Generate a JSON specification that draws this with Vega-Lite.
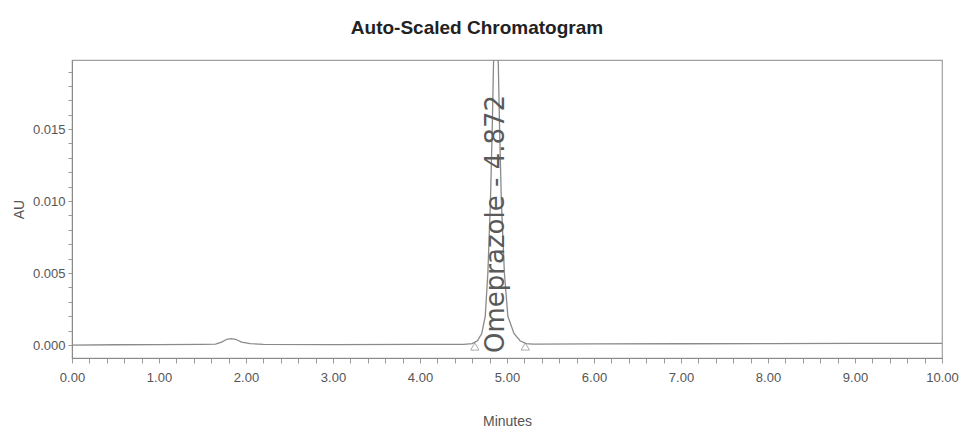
{
  "$schema": "https://vega.github.io/schema/vega-lite/v6.json",
  "autosize": {"type": "none"},
  "padding": {"left": 72, "top": 60, "right": 20, "bottom": 74},
  "width": 870,
  "height": 298,
  "background": "white",
  "title": {
    "text": "Auto-Scaled Chromatogram",
    "font": "Liberation Sans Narrow, Liberation Sans",
    "fontSize": 19,
    "fontWeight": "bold",
    "color": "#222222",
    "offset": 22,
    "dx": -30
  },
  "config": {
    "view": {"stroke": "#a0a0a0", "strokeWidth": 1.2},
    "axis": {
      "labelFont": "Liberation Sans Narrow, Liberation Sans",
      "titleFont": "Liberation Sans Narrow, Liberation Sans",
      "labelColor": "#555555",
      "titleColor": "#555555",
      "labelFontSize": 13,
      "titleFontSize": 14,
      "titleFontWeight": "normal",
      "domainColor": "#8a8a8a",
      "tickColor": "#9a9a9a",
      "grid": false
    }
  },
  "datasets": {
    "trace": [
      {"t": 0.0, "au": 0.0},
      {"t": 0.5, "au": 0.00002},
      {"t": 1.0, "au": 0.00003},
      {"t": 1.5, "au": 0.00004},
      {"t": 1.65, "au": 0.00006},
      {"t": 1.72, "au": 0.0002},
      {"t": 1.78, "au": 0.0004},
      {"t": 1.83, "au": 0.00045},
      {"t": 1.88, "au": 0.0004},
      {"t": 1.95, "au": 0.0002},
      {"t": 2.05, "au": 0.0001},
      {"t": 2.2, "au": 0.00005},
      {"t": 3.0, "au": 0.00003},
      {"t": 4.0, "au": 0.00004},
      {"t": 4.5, "au": 0.00005},
      {"t": 4.6, "au": 0.0001},
      {"t": 4.66, "au": 0.0003},
      {"t": 4.71, "au": 0.0008},
      {"t": 4.75, "au": 0.002},
      {"t": 4.78, "au": 0.005},
      {"t": 4.81, "au": 0.01},
      {"t": 4.83, "au": 0.015},
      {"t": 4.845, "au": 0.0195},
      {"t": 4.872, "au": 0.025},
      {"t": 4.9, "au": 0.0195},
      {"t": 4.915, "au": 0.015},
      {"t": 4.935, "au": 0.01},
      {"t": 4.97, "au": 0.005},
      {"t": 5.01, "au": 0.002},
      {"t": 5.08, "au": 0.0008},
      {"t": 5.15, "au": 0.0003},
      {"t": 5.22, "au": 0.0001},
      {"t": 5.3, "au": 0.00006},
      {"t": 6.0, "au": 0.00008},
      {"t": 7.0, "au": 0.00009},
      {"t": 8.0, "au": 0.0001},
      {"t": 9.0, "au": 0.00011},
      {"t": 10.0, "au": 0.00012}
    ],
    "marks": [
      {"t": 4.63, "au": -0.0001},
      {"t": 5.21, "au": -0.0001}
    ],
    "peaks": [
      {"t": 4.872, "au": -0.00055, "name": "Omeprazole - 4.872"}
    ]
  },
  "layer": [
    {
      "data": {"name": "trace"},
      "mark": {"type": "line", "color": "#8a8a8a", "strokeWidth": 1.3, "clip": true},
      "encoding": {
        "x": {
          "field": "t",
          "type": "quantitative",
          "scale": {"domain": [0, 10], "nice": false, "zero": false},
          "axis": {
            "title": "Minutes",
            "values": [0, 0.2, 0.4, 0.6, 0.8, 1, 1.2, 1.4, 1.6, 1.8, 2, 2.2, 2.4, 2.6, 2.8, 3, 3.2, 3.4, 3.6, 3.8, 4, 4.2, 4.4, 4.6, 4.8, 5, 5.2, 5.4, 5.6, 5.8, 6, 6.2, 6.4, 6.6, 6.8, 7, 7.2, 7.4, 7.6, 7.8, 8, 8.2, 8.4, 8.6, 8.8, 9, 9.2, 9.4, 9.6, 9.8, 10],
            "tickCount": 200,
            "labelExpr": "abs(datum.value - round(datum.value)) < 0.001 ? format(datum.value, '.2f') : ''",
            "labelOverlap": false,
            "labelBound": false,
            "labelFlush": false,
            "tickSize": 5,
            "labelPadding": 8,
            "titlePadding": 30
          }
        },
        "y": {
          "field": "au",
          "type": "quantitative",
          "scale": {"domain": [-0.0009, 0.0198], "nice": false, "zero": false},
          "axis": {
            "title": "AU",
            "values": [0, 0.001, 0.002, 0.003, 0.004, 0.005, 0.006, 0.007, 0.008, 0.009, 0.01, 0.011, 0.012, 0.013, 0.014, 0.015, 0.016, 0.017, 0.018, 0.019],
            "tickCount": 200,
            "labelExpr": "abs(datum.value * 200 - round(datum.value * 200)) < 0.001 ? format(datum.value, '.3f') : ''",
            "labelOverlap": false,
            "labelBound": false,
            "tickSize": 4,
            "labelPadding": 3,
            "titlePadding": 6
          }
        }
      }
    },
    {
      "data": {"name": "marks"},
      "mark": {"type": "point", "shape": "triangle-up", "filled": false, "color": "#8a8a8a", "size": 70, "strokeWidth": 1},
      "encoding": {
        "x": {"field": "t", "type": "quantitative"},
        "y": {"field": "au", "type": "quantitative"}
      }
    },
    {
      "data": {"name": "peaks"},
      "mark": {"type": "text", "angle": 270, "align": "left", "baseline": "middle", "font": "DejaVu Sans", "fontSize": 26, "color": "#5a5a5a"},
      "encoding": {
        "x": {"field": "t", "type": "quantitative"},
        "y": {"field": "au", "type": "quantitative"},
        "text": {"field": "name"}
      }
    }
  ]
}
